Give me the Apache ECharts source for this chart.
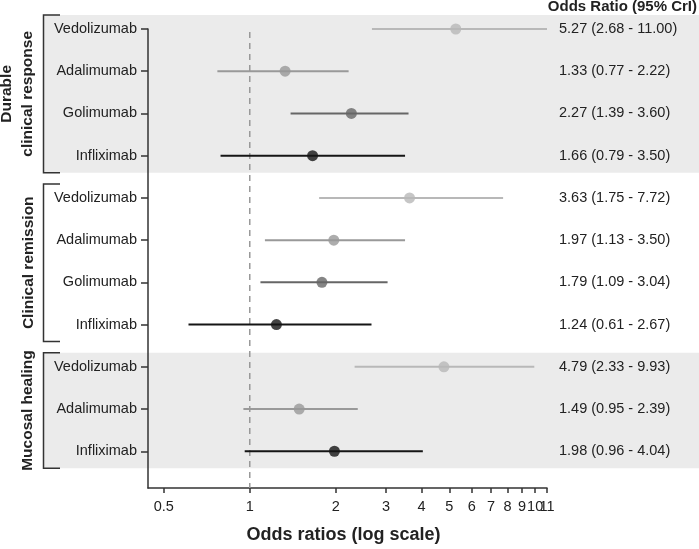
<!DOCTYPE html>
<html>
<head>
<meta charset="utf-8">
<script src="https://cdn.jsdelivr.net/npm/echarts@6/dist/echarts.min.js"></script>
<style>html,body{margin:0;padding:0;background:#fff}#c{width:699px;height:549px}</style>
</head>
<body>
<div id="c"></div>
<script>
// ---- data ----
const drugs = ['Vedolizumab','Adalimumab','Golimumab','Infliximab','Vedolizumab','Adalimumab','Golimumab','Infliximab','Vedolizumab','Adalimumab','Infliximab'];
const oddsRatio = [5.27, 1.33, 2.27, 1.66, 3.63, 1.97, 1.79, 1.24, 4.79, 1.49, 1.98];
const ciLow    = [2.68, 0.77, 1.39, 0.79, 1.75, 1.13, 1.09, 0.61, 2.33, 0.95, 0.96];
const ciHigh   = [11.00, 2.22, 3.60, 3.50, 7.72, 3.50, 3.04, 2.67, 9.93, 2.39, 4.04];
const groupNames = ['Durable\nclinical response', 'Clinical remission', 'Mucosal healing'];
const groupStart = [0, 4, 8];
const groupEnd = [3, 7, 10];
const groupShaded = [true, false, true];
const xTicks = [0.5, 1, 2, 3, 4, 5, 6, 7, 8, 9, 10, 11];
const refValue = 1;
const drugColors = {Vedolizumab: '#b8b8b8', Adalimumab: '#999999', Golimumab: '#666666', Infliximab: '#151515'};

const FONT = 'Liberation Sans, Arial, sans-serif';
const rowIdx = drugs.map((d, i) => i);
const X_MIN = 0.44, X_MAX = 11.001, Y_MAX = 10.87;
const groupLabelX = [17.5, 28.5, 28];
// an extra blank label at the axis end keeps ECharts' max-label overlap check away from "10"/"11"
const xLabelValues = xTicks.concat([X_MAX]);

const chart = echarts.init(document.getElementById('c'), null, {renderer: 'canvas'});
const option = {
  backgroundColor: '#fff',
  animation: false,
  title: {
    text: 'Odds Ratio (95% CrI)', right: 2, top: -1, padding: 0,
    textStyle: {fontFamily: FONT, fontSize: 15, fontWeight: 'bold', color: '#222'}
  },
  grid: {left: 148, right: 152, top: 29, bottom: 56, containLabel: false},
  xAxis: {
    type: 'log', logBase: 10, min: X_MIN, max: X_MAX, position: 'bottom',
    name: 'Odds ratios (log scale)', nameLocation: 'middle', nameGap: 38,
    nameTextStyle: {fontFamily: FONT, fontSize: 18, fontWeight: 'bold', color: '#222', padding: [0, 8, 0, 0]},
    axisLine: {onZero: false, lineStyle: {color: '#333', width: 1.5}},
    axisTick: {customValues: xTicks, length: 5, lineStyle: {color: '#333', width: 1.5}},
    axisLabel: {customValues: xLabelValues, margin: 11, fontFamily: FONT, fontSize: 14.5, color: '#222',
      showMaxLabel: false, showMinLabel: true, hideOverlap: false,
      formatter: (v, idx) => idx >= xTicks.length ? ' ' : String(Math.round(v * 100) / 100)},
    splitLine: {show: false}, minorTick: {show: false}, minorSplitLine: {show: false}
  },
  yAxis: [{
    type: 'value', inverse: true, min: 0, max: Y_MAX, position: 'left',
    axisLine: {show: true, onZero: false, lineStyle: {color: '#333', width: 1.5}},
    axisTick: {show: true, customValues: rowIdx, length: 7, lineStyle: {color: '#333', width: 1.5}},
    axisLabel: {customValues: rowIdx, margin: 11, fontFamily: FONT, fontSize: 14.5, color: '#222',
      formatter: v => drugs[Math.round(v)]},
    splitLine: {show: false}
  }, {
    type: 'value', inverse: true, min: 0, max: Y_MAX, position: 'right',
    axisLine: {show: false, onZero: false}, axisTick: {show: false},
    axisLabel: {customValues: rowIdx, margin: 12, align: 'left', fontFamily: FONT, fontSize: 14.5, color: '#222',
      formatter: v => { const i = Math.round(v); return oddsRatio[i].toFixed(2) + ' (' + ciLow[i].toFixed(2) + ' - ' + ciHigh[i].toFixed(2) + ')'; }},
    splitLine: {show: false}
  }],
  series: [
    {
      type: 'custom', name: 'groups', z: -1, clip: false, silent: true,
      encode: {x: 0, y: [1, 2]},
      data: groupNames.map((g, i) => [refValue, groupStart[i], groupEnd[i], i]),
      renderItem: (params, api) => {
        const s = api.value(1), e = api.value(2), g = api.value(3);
        const yTop = api.coord([refValue, s])[1] - 14;
        const yBot = api.coord([refValue, e])[1] + 17;
        const children = [];
        if (groupShaded[g]) {
          children.push({type: 'rect', shape: {x: 43, y: yTop, width: 699 - 43, height: yBot - yTop}, style: {fill: '#ebebeb'}});
        }
        children.push({type: 'polyline', shape: {points: [[60, yTop], [43.5, yTop], [43.5, yBot], [60, yBot]]},
          style: {stroke: '#333', lineWidth: 1.5, fill: null}});
        children.push({type: 'text', x: groupLabelX[g], y: (yTop + yBot) / 2, rotation: Math.PI / 2,
          style: {text: groupNames[g], align: 'center', verticalAlign: 'middle', fontFamily: FONT,
            fontSize: 15.5, fontWeight: 'bold', fill: '#222', lineHeight: 21}});
        return {type: 'group', children};
      }
    },
    {
      type: 'custom', name: 'ref', z: 1, silent: true, clip: false,
      encode: {x: 0, y: 1},
      data: [[refValue, 0]],
      renderItem: (params, api) => {
        const p0 = api.coord([api.value(0), 0]);
        const p1 = api.coord([api.value(0), Y_MAX]);
        return {type: 'line', shape: {x1: p0[0], y1: p0[1] + 3, x2: p1[0], y2: p1[1]},
          style: {stroke: '#999', lineWidth: 1.5, lineDash: [6, 5]}};
      }
    },
    {
      type: 'custom', name: 'ci', z: 2, silent: true,
      encode: {x: [0, 1], y: 2},
      data: rowIdx.map(i => [ciLow[i], ciHigh[i], i]),
      renderItem: (params, api) => {
        const r = api.value(2);
        const a = api.coord([api.value(0), r]);
        const b = api.coord([api.value(1), r]);
        return {type: 'line', shape: {x1: a[0], y1: a[1], x2: b[0], y2: b[1]},
          style: {stroke: drugColors[drugs[r]], lineWidth: 2}};
      }
    },
    {
      type: 'scatter', name: 'or', z: 3, symbol: 'circle', symbolSize: 11, silent: true,
      data: rowIdx.map(i => ({value: [oddsRatio[i], i], itemStyle: {color: drugColors[drugs[i]]}}))
    }
  ]
};
chart.setOption(option);
</script>
</body>
</html>
